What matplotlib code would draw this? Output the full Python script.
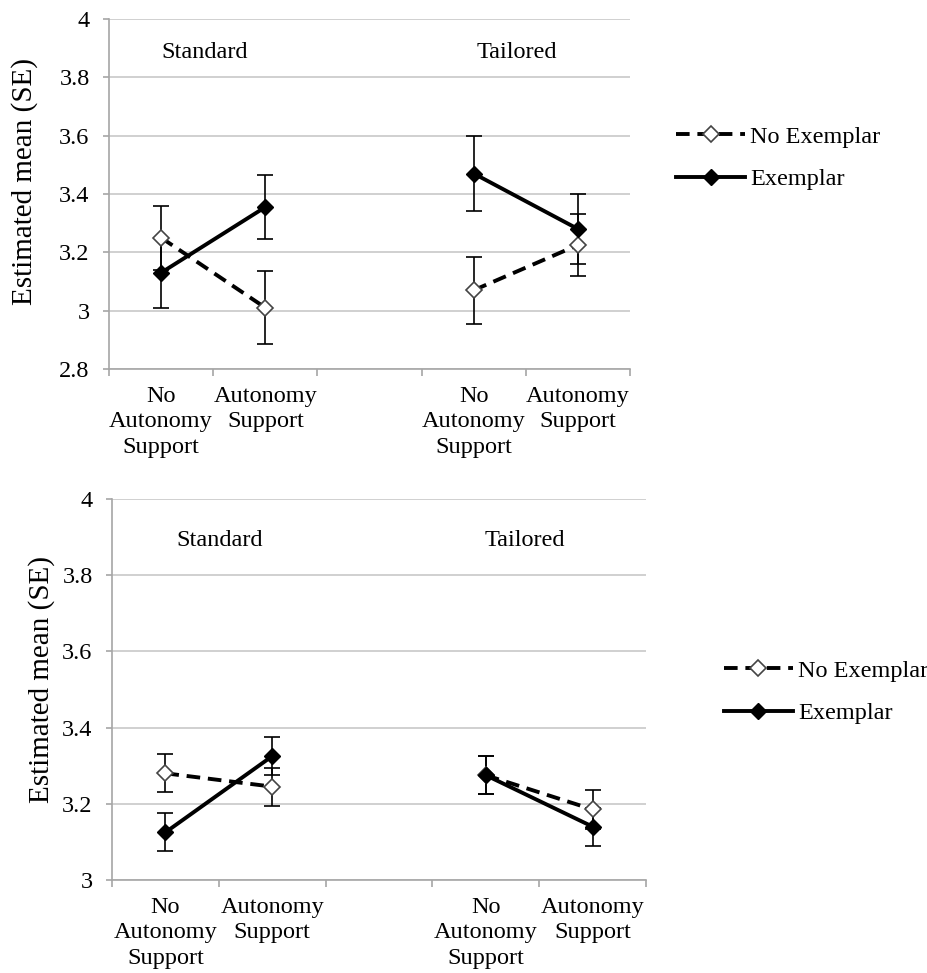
import numpy as np
import matplotlib
matplotlib.use("Agg")
import matplotlib.pyplot as plt

plt.rcParams['font.family'] = ['Liberation Serif', 'DejaVu Serif']

# category slots on the x axis (slot 2 is an empty spacer between conditions)
categories = ["No\nAutonomy\nSupport", "Autonomy\nSupport", "",
              "No\nAutonomy\nSupport", "Autonomy\nSupport"]
group_names = ["Standard", "Tailored"]
series_names = ["No Exemplar", "Exemplar"]

# upper panel: estimated means and standard errors
top_no_ex = [3.25, 3.01, 3.07, 3.225]
top_no_ex_se = [0.11, 0.125, 0.115, 0.105]
top_ex = [3.13, 3.355, 3.47, 3.28]
top_ex_se = [0.12, 0.11, 0.13, 0.12]
top_yticks = [2.8, 3.0, 3.2, 3.4, 3.6, 3.8, 4.0]
top_ylabels = ["2.8", "3", "3.2", "3.4", "3.6", "3.8", "4"]

# lower panel
bot_no_ex = [3.28, 3.245, 3.275, 3.185]
bot_no_ex_se = [0.05, 0.05, 0.05, 0.05]
bot_ex = [3.125, 3.325, 3.275, 3.14]
bot_ex_se = [0.05, 0.05, 0.05, 0.05]
bot_yticks = [3.0, 3.2, 3.4, 3.6, 3.8, 4.0]
bot_ylabels = ["3", "3.2", "3.4", "3.6", "3.8", "4"]

xpos = np.array([0, 1, 3, 4])
groups = [[0, 1], [2, 3]]

GRID = "#c8c8c8"
AXIS = "#a6a6a6"
FS = 17.5


def draw_panel(ax, no_ex, no_ex_se, ex, ex_se, yticks, ylabels,
               label_pos, label_y, ylab_xy):
    ax.set_xlim(-0.5, 4.5)
    ax.set_ylim(yticks[0], yticks[-1])
    ax.set_yticks(yticks)
    ax.set_yticklabels(ylabels, fontsize=FS)
    ax.yaxis.grid(True, color=GRID, linewidth=1.2)
    ax.set_axisbelow(True)
    for s in ["top", "right"]:
        ax.spines[s].set_visible(False)
    for s in ["left", "bottom"]:
        ax.spines[s].set_color(AXIS)
        ax.spines[s].set_linewidth(1.2)
    ax.tick_params(axis="y", length=4, color=AXIS, width=1.2, pad=10)

    # labels at slot centres, tick marks at slot boundaries
    ax.set_xticks(range(len(categories)))
    ax.set_xticklabels(categories, fontsize=FS, linespacing=1.28)
    ax.tick_params(axis="x", which="major", length=0, pad=12)
    ax.set_xticks(np.arange(-0.5, 5.0, 1.0), minor=True)
    ax.tick_params(axis="x", which="minor", length=5, color=AXIS, width=1.2)

    ax.set_ylabel("Estimated mean (SE)", fontsize=21)
    ax.yaxis.set_label_coords(*ylab_xy)

    ax.errorbar(xpos, no_ex, yerr=no_ex_se, fmt="none", ecolor="black",
                elinewidth=1.2, capsize=6, capthick=1.2, zorder=3)
    ax.errorbar(xpos, ex, yerr=ex_se, fmt="none", ecolor="black",
                elinewidth=1.2, capsize=6, capthick=1.2, zorder=3)

    for k, g in enumerate(groups):
        ax.plot(xpos[g], np.array(no_ex)[g], linestyle=(0, (3.5, 2)), color="black",
                linewidth=2.8, marker="D", markersize=8, markerfacecolor="white",
                markeredgecolor="#444444", markeredgewidth=1.2,
                label=series_names[0] if k == 0 else None, zorder=4)
        ax.plot(xpos[g], np.array(ex)[g], linestyle="-", color="black",
                linewidth=2.8, marker="D", markersize=8, markerfacecolor="black",
                markeredgecolor="black",
                label=series_names[1] if k == 0 else None, zorder=5)

    for name, xp in zip(group_names, label_pos):
        ax.text(xp, label_y, name, fontsize=FS, ha="center", va="center")


fig = plt.figure(figsize=(9.28, 9.73), dpi=100)
ax1 = fig.add_axes([0.1175, 0.6208, 0.5614, 0.3597])
ax2 = fig.add_axes([0.1207, 0.0956, 0.5754, 0.3916])

draw_panel(ax1, top_no_ex, top_no_ex_se, top_ex, top_ex_se,
           top_yticks, top_ylabels, [0.42, 3.41], 3.885, (-0.137, 0.535))
draw_panel(ax2, bot_no_ex, bot_no_ex_se, bot_ex, bot_ex_se,
           bot_yticks, bot_ylabels, [0.51, 3.37], 3.89, (-0.106, 0.525))

for ax, anchor in [(ax1, (0.7284, 0.8376)), (ax2, (0.780, 0.2888))]:
    h, l = ax.get_legend_handles_labels()
    fig.legend(h, l, loc="center left", bbox_to_anchor=anchor, frameon=False,
               fontsize=FS, handlelength=2.85, handletextpad=0.2,
               labelspacing=0.85, borderpad=0, borderaxespad=0)

fig.savefig("out.png", dpi=100)
